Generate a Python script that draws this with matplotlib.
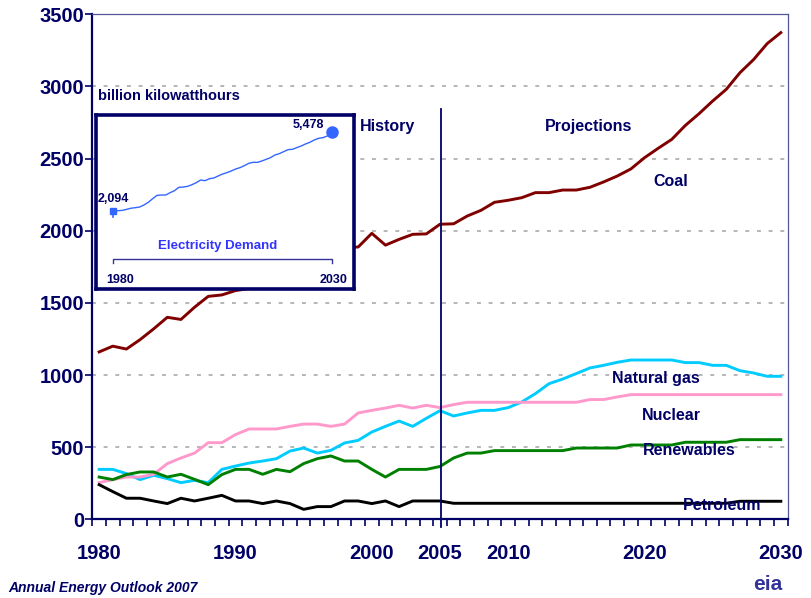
import numpy as np
import matplotlib
matplotlib.use('Agg')
import matplotlib.pyplot as plt

plt.rcParams['font.family'] = ['Liberation Sans', 'DejaVu Sans']

# data: billion kilowatthours, 1980-2030
years = list(range(1980, 2031))
coal = [1160, 1200, 1180, 1245, 1320, 1400, 1385, 1470, 1545, 1555, 1585, 1600,
        1640, 1698, 1700, 1712, 1800, 1845, 1885, 1887, 1982, 1900, 1940, 1975,
        1978, 2045, 2048, 2102, 2141, 2197, 2211, 2229, 2264, 2264, 2282, 2282,
        2301, 2338, 2379, 2428, 2506, 2571, 2633, 2730, 2811, 2899, 2980, 3095,
        3186, 3297, 3373]
natural_gas = [346, 346, 317, 275, 305, 282, 254, 270, 254, 346, 369, 390, 404,
               420, 473, 494, 459, 478, 529, 547, 605, 644, 681, 644, 700, 753,
               716, 737, 755, 755, 774, 813, 871, 940, 972, 1010, 1049, 1067,
               1088, 1104, 1104, 1104, 1104, 1086, 1086, 1067, 1067, 1030, 1014,
               991, 991]
nuclear = [254, 275, 293, 293, 312, 386, 425, 459, 531, 531, 587, 626, 626, 626,
           644, 660, 660, 644, 660, 737, 755, 771, 790, 771, 790, 774, 795, 811,
           811, 811, 811, 811, 811, 811, 811, 811, 830, 830, 848, 864, 864, 864,
           864, 864, 864, 864, 864, 864, 864, 864, 864]
renewables = [293, 275, 310, 328, 328, 293, 312, 277, 240, 310, 346, 346, 312,
              346, 330, 386, 420, 439, 404, 404, 346, 293, 346, 346, 346, 366,
              425, 459, 459, 476, 476, 476, 476, 476, 476, 494, 494, 494, 494,
              515, 515, 515, 515, 534, 534, 534, 534, 552, 552, 552, 552]
petroleum = [240, 192, 146, 146, 127, 109, 146, 127, 146, 166, 127, 127, 109,
             127, 109, 69, 88, 88, 127, 127, 109, 127, 88, 127, 127, 127, 111,
             111, 111, 111, 111, 111, 111, 111, 111, 111, 111, 111, 111, 111,
             111, 111, 111, 111, 111, 111, 111, 125, 125, 125, 125]

# inset: electricity demand
demand = [2094, 2094, 2108, 2150, 2200, 2224, 2252, 2339, 2454, 2612, 2756,
          2771, 2771, 2872, 2958, 3102, 3116, 3145, 3217, 3304, 3419, 3390,
          3476, 3505, 3592, 3678, 3736, 3808, 3894, 3952, 4038, 4139, 4182,
          4182, 4240, 4312, 4384, 4499, 4556, 4643, 4729, 4744, 4816, 4888,
          4974, 5046, 5147, 5219, 5248, 5320, 5478]

navy = '#000066'

fig = plt.figure(figsize=(8.12, 5.98), dpi=100)
ax = fig.add_axes([0.1137, 0.1316, 0.8563, 0.8445])

ax.plot(years, coal, color='#800000', lw=2.1)
ax.plot(years, natural_gas, color='#00CCFF', lw=2.1)
ax.plot(years, nuclear, color='#FF99CC', lw=2.1)
ax.plot(years, renewables, color='#008000', lw=2.1)
ax.plot(years, petroleum, color='black', lw=2.1)

ax.set_xlim(1979.5, 2030.5)
ax.set_ylim(0, 3500)

# gridlines
for v in range(500, 3501, 500):
    ax.axhline(v, color='#B5B5B5', lw=1.4, ls=(0, (2, 4)), zorder=0)

ax.set_yticks(range(0, 3501, 500))
ax.set_xticks([1980, 1990, 2000, 2005, 2010, 2020, 2030])
ax.set_xticks(np.arange(1979.5, 2031, 1), minor=True)
ax.tick_params(axis='y', colors=navy, length=5, width=1.2, pad=1, labelsize=14.5)
ax.tick_params(axis='x', which='major', length=0, pad=18, colors=navy, labelsize=14.5)
ax.tick_params(axis='x', which='minor', length=5, width=1.2, color=navy)
for lab in ax.get_xticklabels() + ax.get_yticklabels():
    lab.set_fontweight('bold')

for side in ['left', 'bottom']:
    ax.spines[side].set_color(navy)
    ax.spines[side].set_linewidth(1.6)
for side in ['top', 'right']:
    ax.spines[side].set_color('#555599')
    ax.spines[side].set_linewidth(0.9)

# history / projections divider
ax.plot([2005.1, 2005.1], [-53, 2843], color=navy, lw=1.3, clip_on=False)

lab_kw = dict(color=navy, fontsize=11.5, fontweight='bold', ha='center', va='center')
ax.text(1999.1, 2720, 'History', **dict(lab_kw, ha='left'))
ax.text(2015.9, 2725, 'Projections', **lab_kw)
ax.text(2021.9, 2339, 'Coal', **lab_kw)
ax.text(2020.8, 973, 'Natural gas', **lab_kw)
ax.text(2022.0, 716, 'Nuclear', **lab_kw)
ax.text(2023.3, 474, 'Renewables', **lab_kw)
ax.text(2025.7, 99, 'Petroleum', **lab_kw)
ax.text(1979.9, 2935, 'billion kilowatthours', color=navy, fontsize=10.5,
        fontweight='bold', ha='left', va='center')

# inset
ax_in = fig.add_axes([96 / 812, 1 - 289 / 598, 258 / 812, 174 / 598])
ax_in.set_xlim(1976.04, 2035.1)
ax_in.set_ylim(-1285, 6225)
ax_in.set_xticks([])
ax_in.set_yticks([])
for s in ax_in.spines.values():
    s.set_color(navy)
    s.set_linewidth(2.6)
ax_in.set_facecolor('white')
ax_in.plot(years, demand, color='#3366FF', lw=1.0)
ax_in.plot([1980], [demand[0]], marker='s', ms=5, color='#3366FF')
ax_in.plot([1980, 1980], [demand[0], demand[0] - 250], color='#3366FF', lw=1.2)
ax_in.plot([2030], [demand[-1]], marker='o', ms=8, color='#3366FF')
ax_in.text(1980, 2599, '2,094', color=navy, fontsize=9, fontweight='bold',
           ha='center', va='center')
ax_in.text(2024.6, 5793, '5,478', color=navy, fontsize=9, fontweight='bold',
           ha='center', va='center')
ax_in.text(2003.8, 571, 'Electricity Demand', color='#3333FF', fontsize=9.5,
           fontweight='bold', ha='center', va='center')
ax_in.plot([1980, 1980, 2030, 2030], [-173, 0, 0, -173], color='#333399', lw=1.0)
ax_in.text(1981.6, -897, '1980', color=navy, fontsize=9, fontweight='bold',
           ha='center', va='center')
ax_in.text(2030.4, -897, '2030', color=navy, fontsize=9, fontweight='bold',
           ha='center', va='center')

# footer
fig.text(8 / 812, 1 - 588 / 598, 'Annual Energy Outlook 2007', color=navy,
         fontsize=10, fontweight='bold', fontstyle='italic', ha='left', va='center')
fig.text(768 / 812, 1 - 584 / 598, 'eia', color='#333399', fontsize=15,
         fontweight='bold', ha='center', va='center')

fig.savefig('out.png', dpi=100)
